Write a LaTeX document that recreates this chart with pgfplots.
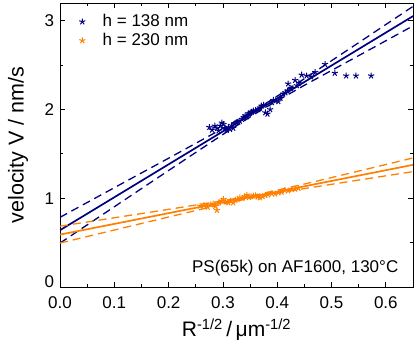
\documentclass[border=0pt]{standalone}
\usepackage{fontspec}
\setmainfont{Liberation Sans}
\usepackage{pgfplots}
\pgfplotsset{compat=1.18}
\definecolor{cblue}{RGB}{0,0,128}
\definecolor{corange}{RGB}{255,128,0}
\begin{document}
\fontsize{17bp}{20bp}\selectfont
\begin{tikzpicture}
\begin{axis}[
    scale only axis,
    width=353bp, height=284bp,
    xmin=0, xmax=0.65, ymin=0, ymax=3.2,
    xtick={0,0.1,0.2,0.3,0.4,0.5,0.6},
    ytick={0,1,2,3},
    yticklabels={\raisebox{10bp}{0},1,2,3},
    minor x tick num=1, minor y tick num=1,
    tick align=inside,
    major tick length=5bp, minor tick length=3bp,
    axis line style={line width=0.8bp},
    every tick/.style={black, line width=0.8bp},
    /pgf/number format/assume math mode=true,
    xticklabel style={yshift=-4bp, /pgf/number format/.cd, fixed, fixed zerofill, precision=1},
    tick label style={font=\fontsize{17bp}{20bp}\selectfont},
    xlabel={R\textsuperscript{-1/2}\,/\,μm\textsuperscript{-1/2}},
    ylabel={velocity V / nm/s},
    every axis x label/.style={at={(axis description cs:0.5,-0.151)}, anchor=center,
        font=\fontsize{21bp}{24bp}\selectfont},
    every axis y label/.style={at={(axis description cs:-0.119,0.5)}, rotate=90, anchor=center,
        font=\fontsize{21.5bp}{25bp}\selectfont},
    legend style={draw=none, fill=none, at={(axis description cs:0.03,0.975)}, anchor=north west,
        font=\fontsize{17bp}{20bp}\selectfont, row sep=0bp},
    legend cell align=left,
    legend image code/.code={
        \path[draw=none, fill=none] (0cm,0cm) -- (0.95cm,0cm);
        \draw[#1, only marks] plot coordinates {(0.3cm,0cm)};},
]
\addplot[only marks, mark=star, mark size=3.2bp, color=cblue, mark options={line width=1bp}] coordinates {
(0.275,1.80) (0.280,1.77) (0.285,1.815) (0.289,1.79) (0.292,1.76) (0.295,1.815)
(0.298,1.85) (0.301,1.834) (0.304,1.79) (0.307,1.767) (0.310,1.80) (0.313,1.778)
(0.316,1.82) (0.319,1.79) (0.322,1.84) (0.325,1.853) (0.328,1.86) (0.331,1.87)
(0.335,1.89) (0.338,1.91) (0.341,1.93) (0.344,1.92) (0.347,1.955) (0.350,1.96)
(0.353,1.97) (0.356,1.985) (0.360,1.99) (0.365,2.00) (0.368,2.02) (0.371,2.04)
(0.375,2.05) (0.378,1.965) (0.382,1.95) (0.387,2.00) (0.390,2.08) (0.393,2.105)
(0.397,2.10) (0.402,2.09) (0.406,2.13) (0.411,2.175) (0.415,2.19) (0.419,2.21)
(0.420,2.29) (0.425,2.24) (0.433,2.33) (0.436,2.27) (0.440,2.30) (0.445,2.39)
(0.454,2.38) (0.462,2.37) (0.470,2.42) (0.488,2.51) (0.506,2.41) (0.527,2.38)
(0.545,2.38) (0.573,2.38)
};
\addlegendentry{h = 138 nm}
\addplot[only marks, mark=star, mark size=3.2bp, color=corange, mark options={line width=1bp}] coordinates {
(0.258,0.913) (0.265,0.92) (0.272,0.90) (0.278,0.93) (0.282,0.936) (0.286,0.91)
(0.289,0.865) (0.293,0.95) (0.297,0.97) (0.301,0.989) (0.305,0.96) (0.310,0.95)
(0.314,0.97) (0.319,0.95) (0.323,0.98) (0.327,0.99) (0.331,1.007) (0.336,1.00)
(0.340,1.02) (0.344,1.037) (0.348,1.01) (0.352,1.02) (0.356,1.026) (0.360,1.03)
(0.364,1.015) (0.368,1.007) (0.373,1.02) (0.378,1.034) (0.383,1.04) (0.390,1.052)
(0.396,1.05) (0.402,1.063) (0.408,1.07) (0.414,1.09) (0.420,1.085) (0.427,1.10)
(0.433,1.105) (0.439,1.113)
};
\addlegendentry{h = 230 nm}
% fits and confidence bands
\addplot[cblue, line width=1.7bp, forget plot] coordinates {(0,0.64) (0.65,3.052)};
\addplot[cblue, line width=1.3bp, dash pattern=on 8bp off 5bp, forget plot] coordinates {
(0,0.785) (0.1,1.119) (0.2,1.451) (0.3,1.787) (0.37,2.033) (0.45,2.347) (0.55,2.753) (0.65,3.162)};
\addplot[cblue, line width=1.3bp, dash pattern=on 8bp off 5bp, forget plot] coordinates {
(0,0.495) (0.1,0.904) (0.2,1.313) (0.3,1.719) (0.37,1.993) (0.45,2.273) (0.55,2.607) (0.65,2.942)};
\addplot[corange, line width=1.7bp, forget plot] coordinates {(0,0.59) (0.65,1.3765)};
\addplot[corange, line width=1.3bp, dash pattern=on 8bp off 5bp, forget plot] coordinates {
(0,0.685) (0.1,0.780) (0.2,0.875) (0.3,0.972) (0.36,1.036) (0.45,1.160) (0.55,1.306) (0.65,1.454)};
\addplot[corange, line width=1.3bp, dash pattern=on 8bp off 5bp, forget plot] coordinates {
(0,0.495) (0.1,0.642) (0.2,0.789) (0.3,0.934) (0.36,1.016) (0.45,1.109) (0.55,1.205) (0.65,1.300)};
\node[anchor=east, font=\fontsize{17bp}{20bp}\selectfont] at (axis description cs:0.975,0.067) {PS(65k) on AF1600, 130°C};
\end{axis}
\pgfresetboundingbox
\path[use as bounding box] (-60bp,-59bp) rectangle (355bp,287bp);
\end{tikzpicture}
\end{document}
